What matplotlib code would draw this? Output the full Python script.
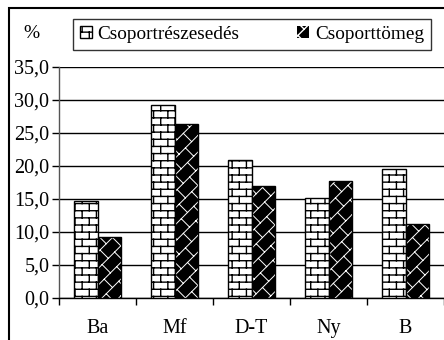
import warnings

import matplotlib
matplotlib.use("Agg")
import matplotlib.pyplot as plt
import matplotlib.hatch as mhatch
import numpy as np
from matplotlib.patches import Rectangle
from matplotlib.path import Path
from matplotlib.ticker import FuncFormatter, MultipleLocator

warnings.filterwarnings("ignore")

categories = ["Ba", "Mf", "D-T", "Ny", "B"]
reszesedes = [14.7, 29.3, 20.9, 15.1, 19.6]
tomeg = [9.2, 26.3, 16.9, 17.7, 11.2]
series_names = ["Csoportrészesedés", "Csoporttömeg"]


class BrickHatch(mhatch.HatchPatternBase):
    """Horizontal brick wall, selected with 'b' in the hatch string."""
    rows = 14
    bricks = 7

    def __init__(self, hatch, density):
        self.on = "b" in hatch
        n_h = self.rows
        n_v = (self.rows + 1) * self.bricks
        self.num_vertices = (n_h + n_v) * 2 if self.on else 0

    def set_vertices_and_codes(self, vertices, codes):
        if not self.on:
            return
        segs = []
        ys = (np.arange(-1, self.rows + 1) + 0.5) / self.rows
        for y in ys[1:-1]:
            segs.append(((0.0, y), (1.0, y)))
        for i in range(-1, self.rows):
            y0, y1 = ys[i + 1], ys[i + 2]
            for j in range(self.bricks):
                x = (j + 0.25 + 0.5 * (i % 2)) / self.bricks
                segs.append(((x, y0), (x, y1)))
        pts = np.array(segs).reshape(-1, 2)
        vertices[:] = pts
        codes[0::2] = Path.MOVETO
        codes[1::2] = Path.LINETO


class DiagBrickHatch(mhatch.HatchPatternBase):
    """Upward diagonal bricks, selected with 'd' in the hatch string."""
    rows = 6
    bricks = 4

    def __init__(self, hatch, density):
        self.on = "d" in hatch
        n_lines = 2 * self.rows + 1
        n_segs = 2 * self.rows * (2 * self.bricks + 1)
        self.num_vertices = (n_lines + n_segs) * 2 if self.on else 0

    def set_vertices_and_codes(self, vertices, codes):
        if not self.on:
            return
        segs = []
        for k in range(-self.rows, self.rows + 1):
            v = k / self.rows
            segs.append(((0.0, v), (1.0, 1.0 + v)))
        for k in range(-self.rows, self.rows):
            v0, v1 = k / self.rows, (k + 1) / self.rows
            for j in range(2 * self.bricks + 1):
                u = (j + 0.5 * (k % 2)) / self.bricks
                segs.append((((u - v0) / 2, (u + v0) / 2),
                             ((u - v1) / 2, (u + v1) / 2)))
        pts = np.array(segs).reshape(-1, 2)
        vertices[:] = pts
        codes[0::2] = Path.MOVETO
        codes[1::2] = Path.LINETO


mhatch._hatch_types.extend([BrickHatch, DiagBrickHatch])

plt.rcParams["font.family"] = ["Liberation Serif", "DejaVu Serif"]
plt.rcParams["hatch.linewidth"] = 1.0

W, H = 444, 340
fig = plt.figure(figsize=(W / 100, H / 100), dpi=100)
ax = fig.add_axes([59 / W, 1 - 297.7 / H, (W - 59) / W, (297.7 - 67) / H])

x = np.arange(len(categories))
bw = 0.3
b1 = ax.bar(x - bw / 2, reszesedes, bw, color="white", edgecolor="black",
            hatch="b", linewidth=1, zorder=3)
# black bars with thin white diagonal bricks, outline drawn on top
with plt.rc_context({"hatch.linewidth": 0.7}):
    b2 = ax.bar(x + bw / 2, tomeg, bw, color="black", edgecolor="white",
                hatch="d", linewidth=0, zorder=3)
ax.bar(x + bw / 2, tomeg, bw, fill=False, edgecolor="black", linewidth=1,
       zorder=4)

ax.set_xlim(-0.5, len(categories) - 0.5)
ax.set_ylim(0, 35)
ax.yaxis.set_major_locator(MultipleLocator(5))
ax.yaxis.set_major_formatter(FuncFormatter(lambda v, p: f"{v:.1f}".replace(".", ",")))
ax.yaxis.grid(True, color="black", linewidth=1)
ax.set_axisbelow(True)

ax.set_xticks(x)
ax.set_xticklabels(categories)
ax.set_xticks(np.arange(len(categories) + 1) - 0.5, minor=True)
ax.tick_params(axis="x", which="major", length=0, pad=15, labelsize=14.5)
ax.tick_params(axis="x", which="minor", length=5, width=1, direction="out")
ax.tick_params(axis="y", length=5, width=1, direction="out", pad=2,
               labelsize=14.5)

for side in ["top", "right"]:
    ax.spines[side].set_visible(False)
ax.spines["left"].set_color("#555555")
ax.spines["left"].set_linewidth(1)
ax.spines["bottom"].set_linewidth(1)

fig.text(31 / W, 1 - 34 / H, "%", ha="center", va="center", fontsize=14)

leg = fig.legend([b1, b2], series_names, loc="center", ncol=2,
                 bbox_to_anchor=(64 / W, 1 - 51 / H, (440 - 64) / W, 33 / H),
                 frameon=True, fancybox=False, fontsize=13.9,
                 handlelength=0.6, handleheight=0.6, handletextpad=0.3,
                 columnspacing=3.0, borderpad=0.35)
leg.get_frame().set_edgecolor("black")
leg.get_frame().set_linewidth(1)

fig.patches.append(Rectangle((9 / W, -0.1), 1.0, 1.1 - 8 / H,
                             transform=fig.transFigure, fill=False,
                             edgecolor="black", linewidth=1.5))

fig.savefig("out.png", dpi=100)
